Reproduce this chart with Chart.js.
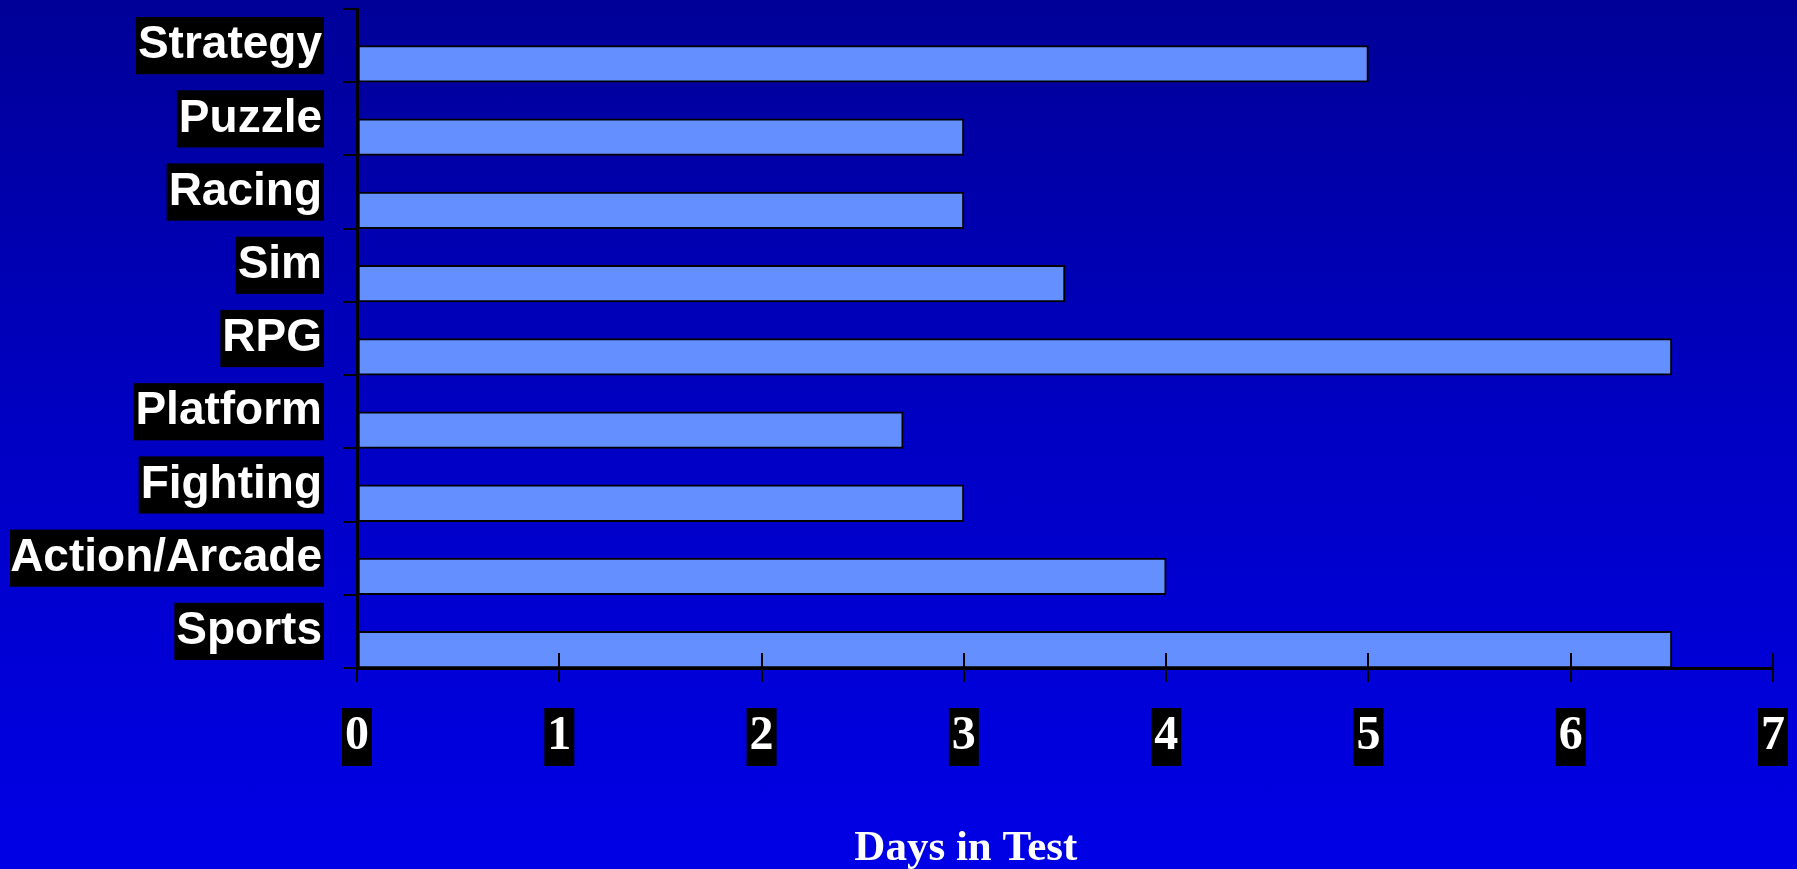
<!DOCTYPE html>
<html>
<head>
<meta charset="utf-8">
<title>Days in Test</title>
<script src="https://cdn.jsdelivr.net/npm/chart.js@4.4.1/dist/chart.umd.min.js"></script>
<style>
  html, body {
    margin: 0;
    padding: 0;
  }
  body {
    width: 1797px;
    height: 869px;
    overflow: hidden;
    background: linear-gradient(to bottom, #000098 0%, #0000c4 50%, #0000e6 100%);
  }
  #wrap {
    position: relative;
    width: 1797px;
    height: 869px;
  }
</style>
</head>
<body>
<div id="wrap"><canvas id="days-chart"></canvas></div>
<script>
// Genres, top to bottom
const genres = ['Strategy', 'Puzzle', 'Racing', 'Sim', 'RPG', 'Platform', 'Fighting', 'Action/Arcade', 'Sports'];
// Days each genre spent in test
const daysInTest = [5, 3, 3, 3.5, 6.5, 2.7, 3, 4, 6.5];
// Day axis range
const dayMin = 0;
const dayMax = 7;
const dayStep = 1;
const axisTitle = 'Days in Test';

const sansBold = { family: "'Liberation Sans', Arial, sans-serif", weight: 'bold' };
const serifBold = { family: "'Liberation Serif', 'Times New Roman', serif", weight: 'bold' };

// Draws the x axis caption a little left of the plot centre
const captionPlugin = {
  id: 'caption',
  afterDraw(chart) {
    const { ctx, chartArea } = chart;
    ctx.save();
    ctx.fillStyle = '#ffffff';
    ctx.font = `bold 43px ${serifBold.family}`;
    ctx.textAlign = 'center';
    ctx.textBaseline = 'alphabetic';
    const x = chartArea.left + (chartArea.right - chartArea.left) * 0.43;
    ctx.fillText(axisTitle, x, chart.height - 9);
    ctx.restore();
  }
};

const ctx = document.getElementById('days-chart').getContext('2d');

new Chart(ctx, {
  type: 'bar',
  data: {
    labels: genres,
    datasets: [
      {
        // empty slot so the real bar sits in the lower half of each row
        label: '',
        data: genres.map(() => null)
      },
      {
        label: axisTitle,
        data: daysInTest,
        backgroundColor: '#6490ff',
        borderColor: '#000000',
        borderWidth: 2,
        borderSkipped: false
      }
    ]
  },
  options: {
    indexAxis: 'y',
    responsive: true,
    maintainAspectRatio: false,
    animation: false,
    categoryPercentage: 1,
    barPercentage: 1,
    layout: {
      padding: { top: 9, right: 24, bottom: 103, left: 10 }
    },
    plugins: {
      legend: { display: false },
      tooltip: { enabled: false }
    },
    scales: {
      y: {
        type: 'category',
        offset: true,
        afterFit(scale) {
          // labels sit inside their rows, no extra room above or below
          scale.width = 347;
          scale.paddingTop = 0;
          scale.paddingBottom = 0;
        },
        grid: {
          offset: true,
          drawOnChartArea: false,
          drawTicks: true,
          tickLength: 14,
          color: '#000000',
          lineWidth: 2
        },
        border: { display: true, color: '#000000', width: 3 },
        ticks: {
          color: '#ffffff',
          font: { ...sansBold, size: 46, lineHeight: 1.2 },
          padding: 21,
          showLabelBackdrop: true,
          backdropColor: '#000000',
          backdropPadding: { top: 1, bottom: 1, left: 2, right: 2 }
        }
      },
      x: {
        type: 'linear',
        position: 'bottom',
        min: dayMin,
        max: dayMax,
        afterFit(scale) {
          scale.height = 98;
          scale.paddingLeft = 0;
          scale.paddingRight = 0;
        },
        grid: {
          drawOnChartArea: false,
          drawTicks: true,
          tickLength: 14,
          color: '#000000',
          lineWidth: 2
        },
        border: { display: true, color: '#000000', width: 3 },
        ticks: {
          stepSize: dayStep,
          color: '#ffffff',
          font: { ...serifBold, size: 48, lineHeight: 1.2 },
          padding: 26,
          maxRotation: 0,
          showLabelBackdrop: true,
          backdropColor: '#000000',
          backdropPadding: { top: 0, bottom: 2, left: 3, right: 3 }
        }
      },
      // same day scale pinned to the bottom row edge, only for the upward tick marks
      xUp: {
        type: 'linear',
        axis: 'x',
        position: { y: genres.length - 0.5 },
        min: dayMin,
        max: dayMax,
        afterFit(scale) {
          scale.paddingLeft = 0;
          scale.paddingRight = 0;
        },
        grid: {
          drawOnChartArea: false,
          drawTicks: true,
          tickLength: -15,
          color: '#000000',
          lineWidth: 2,
          z: 1
        },
        border: { display: false },
        ticks: {
          stepSize: dayStep,
          display: false
        }
      }
    }
  },
  plugins: [captionPlugin]
});
</script>
</body>
</html>
